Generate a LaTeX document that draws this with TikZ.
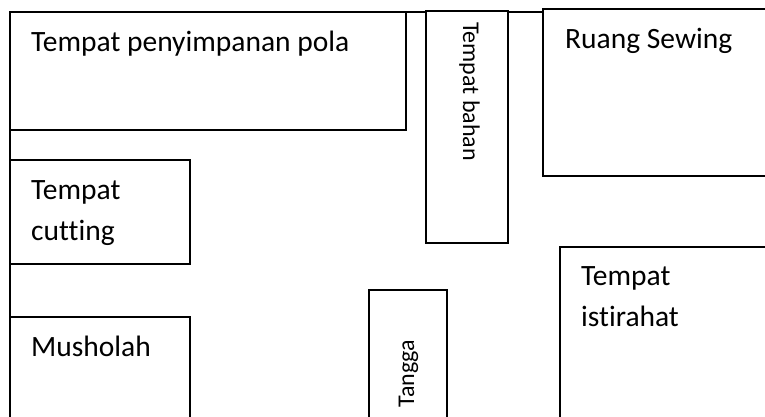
\documentclass[tikz,border=0pt]{standalone}
\usepackage{fontspec}
\setmainfont[Ligatures=NoCommon]{Carlito}
\begin{document}
\begin{tikzpicture}[x=1pt,y=-1pt,
    room/.style ={rectangle, draw, line width=1.4pt, outer sep=0pt, inner sep=0pt},
    wall/.style ={line width=1.4pt},
    roomtext/.style ={anchor=base west, inner sep=0pt, align=left, font=\fontsize{29.5}{41}\selectfont},
    sidetext/.style ={anchor=base west, inner sep=0pt, font=\fontsize{24}{28}\selectfont}]
   \clip (0,0) rectangle (765,416);
   \node[room, minimum width=396pt, minimum height=118pt] (pola) at (208,71) {};
   \node[room, minimum width=180pt, minimum height=104pt] (cutting) at (100,212) {};
   \node[room, minimum width=180pt, minimum height=110pt] (musholah) at (100,372) {};
   \node[room, minimum width=82pt, minimum height=232pt] (bahan) at (467,127) {};
   \node[room, minimum width=78pt, minimum height=140pt] (tangga) at (408,360) {};
   \node[room, minimum width=230pt, minimum height=167pt] (sewing) at (658,92.5) {};
   \node[room, minimum width=210pt, minimum height=180pt] (istirahat) at (665,337) {};
   \node[roomtext] (polatext) at (31,51) {Tempat penyimpanan pola};
   \node[roomtext] (cuttingtext) at (31,240) {Tempat\\cutting};
   \node[roomtext] (musholahtext) at (31,356) {Musholah};
   \node[roomtext] (sewingtext) at (565,48) {Ruang Sewing};
   \node[roomtext] (istirahattext) at (581,326.5) {Tempat\\istirahat};
   \node[sidetext, rotate=-90] (bahantext) at (463,22) {Tempat bahan};
   \node[sidetext, rotate=90] (tanggatext) at (414,408) {Tangga};
   \draw[wall] (pola.north east) -- (bahan.west |- pola.north);
   \draw[wall] (bahan.east |- pola.north) -- (sewing.west |- pola.north);
   \draw[wall] (pola.south west) -- (cutting.north west);
   \draw[wall] (cutting.south west) -- (musholah.north west);
 \end{tikzpicture}
\end{document}
